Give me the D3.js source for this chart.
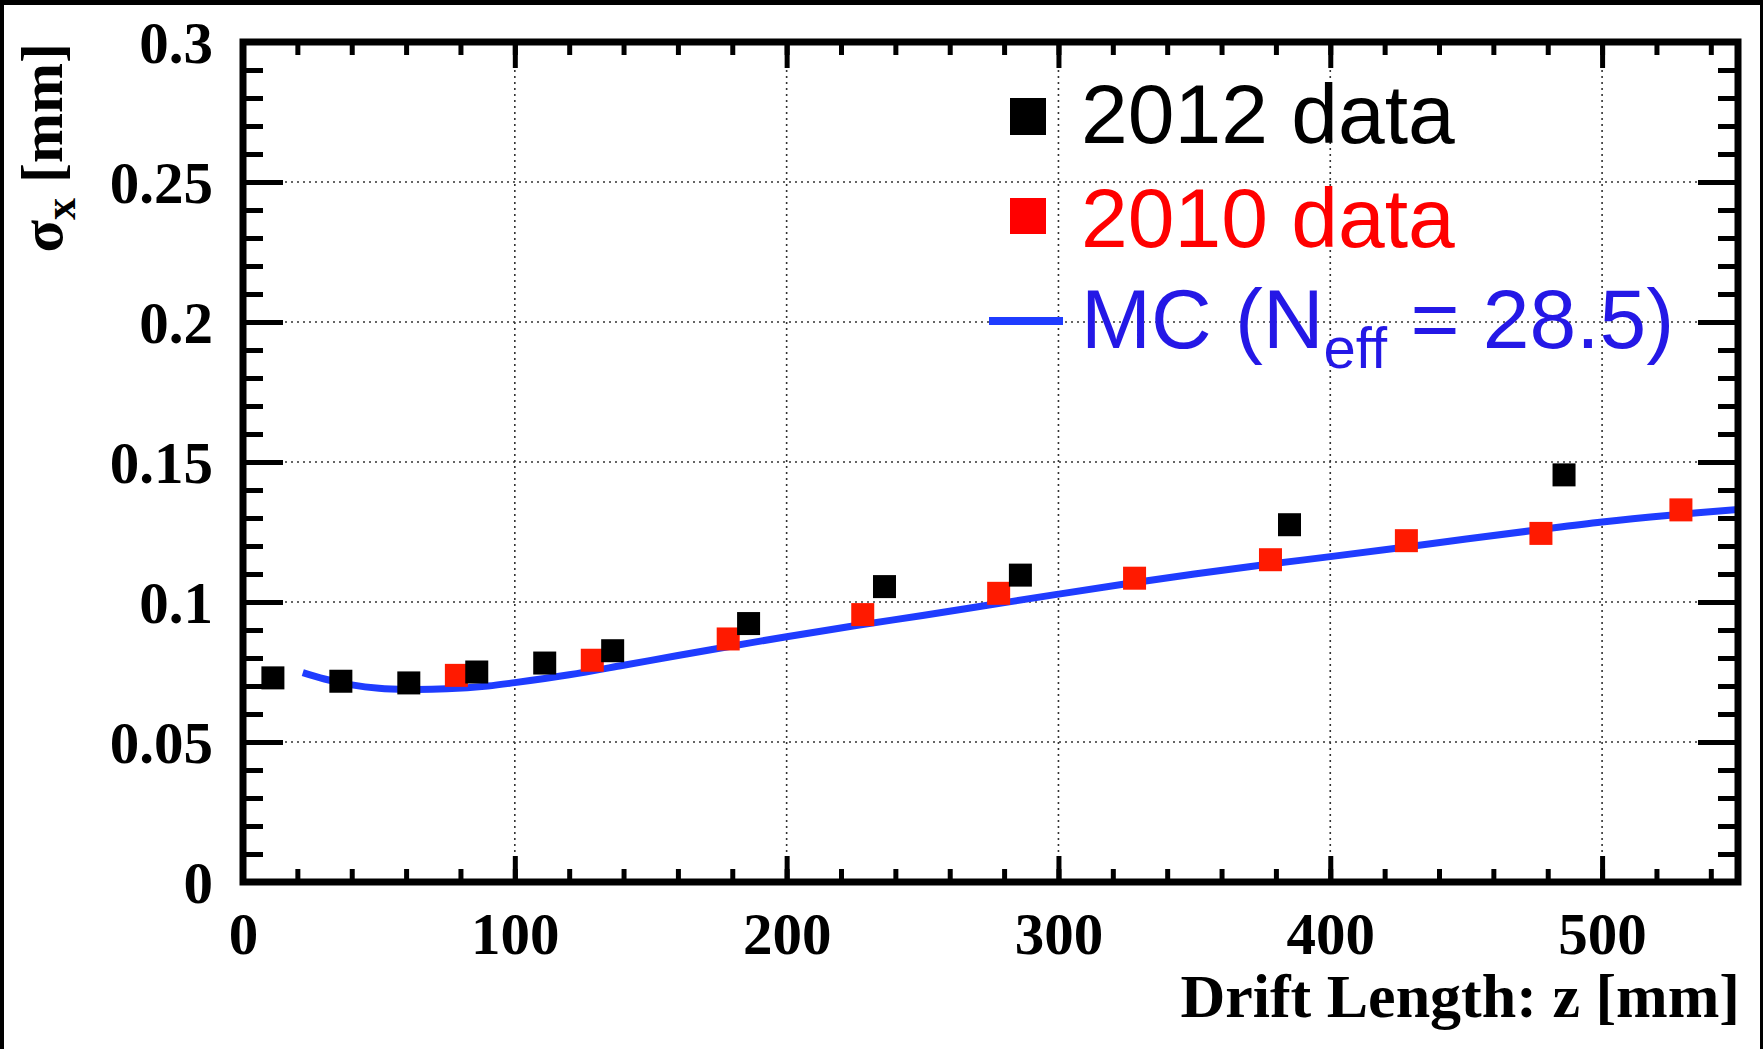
<!DOCTYPE html>
<html>
<head>
<meta charset="utf-8">
<script src="https://cdn.jsdelivr.net/npm/d3@7"></script>
<style>
  body { margin: 0; background: #000; }
  svg { display: block; }
  .tick line { stroke: #000; stroke-width: 5; }
  .tick text { font-family: "Liberation Serif", "Times New Roman", serif; font-weight: bold; font-size: 59px; fill: #000; }
</style>
</head>
<body>
<svg width="1763" height="1049"></svg>
<script>
// data
const z2012 = [11, 36, 61, 86, 111, 136, 186, 236, 286, 385, 486];
const s2012 = [0.0729, 0.0717, 0.0711, 0.0750, 0.0782, 0.0826, 0.0923, 0.1055, 0.1096, 0.1276, 0.1454];

const z2010 = [78.5, 128.5, 178.5, 228, 278, 328, 378, 428, 477.5, 529];
const s2010 = [0.0738, 0.0792, 0.0868, 0.0955, 0.1031, 0.1085, 0.1151, 0.1219, 0.1245, 0.1329];

const zMC = [22, 30, 40, 50, 60, 75, 90, 100, 120, 140, 160, 180, 200, 225, 250, 275, 300, 325, 350, 375, 400, 425, 450, 475, 500, 525, 550];
const sMC = [0.0748, 0.0725, 0.0704, 0.0692, 0.0688, 0.0690, 0.0700, 0.0712, 0.0740, 0.0774, 0.0809, 0.0843, 0.0876, 0.0915, 0.0952, 0.0990, 0.1028, 0.1065, 0.1100, 0.1132, 0.1162, 0.1193, 0.1225, 0.1256, 0.1286, 0.1310, 0.1330];

const xMajor = [0, 100, 200, 300, 400, 500];
const yMajor = [0, 0.05, 0.1, 0.15, 0.2, 0.25, 0.3];
const yLabels = ["0", "0.05", "0.1", "0.15", "0.2", "0.25", "0.3"];

const svg = d3.select("svg");

// white page inside the black frame
svg.append("rect")
  .attr("x", 4).attr("y", 5)
  .attr("width", 1763 - 4 - 3).attr("height", 1049 - 5)
  .attr("fill", "#fff");

const x = d3.scaleLinear().domain([0, 550]).range([243, 1738]);
const y = d3.scaleLinear().domain([0, 0.3]).range([882, 42]);

// grid
const grid = svg.append("g")
  .attr("stroke", "#333")
  .attr("stroke-width", 1.6)
  .attr("stroke-dasharray", "2,4");

grid.selectAll(".gx")
  .data(xMajor.slice(1))
  .join("line")
  .attr("x1", d => x(d)).attr("x2", d => x(d))
  .attr("y1", y(0)).attr("y2", y(0.3));

grid.selectAll(".gy")
  .data(yMajor.slice(1, -1))
  .join("line")
  .attr("x1", x(0)).attr("x2", x(550))
  .attr("y1", d => y(d)).attr("y2", d => y(d));

// axes with inward ticks
function addAxis(axis, tx, ty) {
  const g = svg.append("g")
    .attr("transform", `translate(${tx},${ty})`)
    .call(axis);
  g.select(".domain").remove();
  return g;
}

const yMinor = d3.range(0, 0.3001, 0.01);
const xMinor = d3.range(0, 551, 20);

addAxis(d3.axisLeft(y).tickValues(yMinor).tickSize(-20).tickFormat(""), x(0), 0);
addAxis(d3.axisRight(y).tickValues(yMinor).tickSize(-20).tickFormat(""), x(550), 0);
addAxis(d3.axisBottom(x).tickValues(xMinor).tickSize(-13).tickFormat(""), 0, y(0));
addAxis(d3.axisTop(x).tickValues(xMinor).tickSize(-13).tickFormat(""), 0, y(0.3));

const yAx = addAxis(d3.axisLeft(y).tickValues(yMajor).tickSize(-40).tickPadding(30)
  .tickFormat((d, i) => yLabels[i]), x(0), 0);
yAx.selectAll("text").attr("dy", "0.34em");

addAxis(d3.axisRight(y).tickValues(yMajor).tickSize(-40).tickFormat(""), x(550), 0);

const xAx = addAxis(d3.axisBottom(x).tickValues(xMajor).tickSize(-26).tickPadding(30)
  .tickFormat(d3.format("d")), 0, y(0));
xAx.selectAll("text").attr("dy", "0.71em");

addAxis(d3.axisTop(x).tickValues(xMajor).tickSize(-26).tickFormat(""), 0, y(0.3));

// MC curve
svg.append("defs").append("clipPath").attr("id", "plot")
  .append("rect")
  .attr("x", x(0)).attr("y", y(0.3))
  .attr("width", x(550) - x(0)).attr("height", y(0) - y(0.3));

const mcPts = zMC.map((z, i) => [z, sMC[i]]);
svg.append("path")
  .datum(mcPts)
  .attr("clip-path", "url(#plot)")
  .attr("fill", "none")
  .attr("stroke", "#1f3cff")
  .attr("stroke-width", 7)
  .attr("d", d3.line().x(d => x(d[0])).y(d => y(d[1])).curve(d3.curveCatmullRom));

// markers: 2010 under 2012
const msize = 23;
svg.append("g").selectAll("rect")
  .data(z2010.map((z, i) => [z, s2010[i]]))
  .join("rect")
  .attr("x", d => x(d[0]) - msize / 2)
  .attr("y", d => y(d[1]) - msize / 2)
  .attr("width", msize).attr("height", msize)
  .attr("fill", "#ff1a00");

svg.append("g").selectAll("rect")
  .data(z2012.map((z, i) => [z, s2012[i]]))
  .join("rect")
  .attr("x", d => x(d[0]) - msize / 2)
  .attr("y", d => y(d[1]) - msize / 2)
  .attr("width", msize).attr("height", msize)
  .attr("fill", "#000");

// frame
svg.append("rect")
  .attr("x", x(0)).attr("y", y(0.3))
  .attr("width", x(550) - x(0)).attr("height", y(0) - y(0.3))
  .attr("fill", "none")
  .attr("stroke", "#000")
  .attr("stroke-width", 7);

// axis titles
svg.append("text")
  .attr("x", 1740).attr("y", 1017)
  .attr("text-anchor", "end")
  .attr("font-family", "Liberation Serif, Times New Roman, serif")
  .attr("font-weight", "bold")
  .attr("font-size", 62)
  .text("Drift Length: z [mm]");

const yt = svg.append("text")
  .attr("transform", "translate(62,43) rotate(-90)")
  .attr("text-anchor", "end")
  .attr("font-family", "Liberation Serif, Times New Roman, serif")
  .attr("font-weight", "bold")
  .attr("font-size", 60);
yt.append("tspan").text("σ");
yt.append("tspan").attr("font-size", 44).attr("dy", 13).text("x");
yt.append("tspan").attr("dy", -13).text(" [mm]");

// legend
const legFont = "Liberation Sans, Arial, sans-serif";
svg.append("rect").attr("x", 1010).attr("y", 98).attr("width", 36).attr("height", 37).attr("fill", "#000");
svg.append("text").attr("x", 1081).attr("y", 143)
  .attr("font-family", legFont).attr("font-size", 84).attr("fill", "#000")
  .text("2012 data");

svg.append("rect").attr("x", 1010).attr("y", 198).attr("width", 36).attr("height", 36).attr("fill", "#ff0000");
svg.append("text").attr("x", 1081).attr("y", 247)
  .attr("font-family", legFont).attr("font-size", 84).attr("fill", "#ff0000")
  .text("2010 data");

svg.append("line")
  .attr("x1", 989).attr("x2", 1063)
  .attr("y1", 321).attr("y2", 321)
  .attr("stroke", "#1f3cff").attr("stroke-width", 8);
const mcText = svg.append("text").attr("x", 1081).attr("y", 348)
  .attr("font-family", legFont).attr("font-size", 84).attr("fill", "#2418e6");
mcText.append("tspan").text("MC (N");
mcText.append("tspan").attr("font-size", 58).attr("dy", 20).text("eff");
mcText.append("tspan").attr("dy", -20).text(" = 28.5)");
</script>
</body>
</html>
